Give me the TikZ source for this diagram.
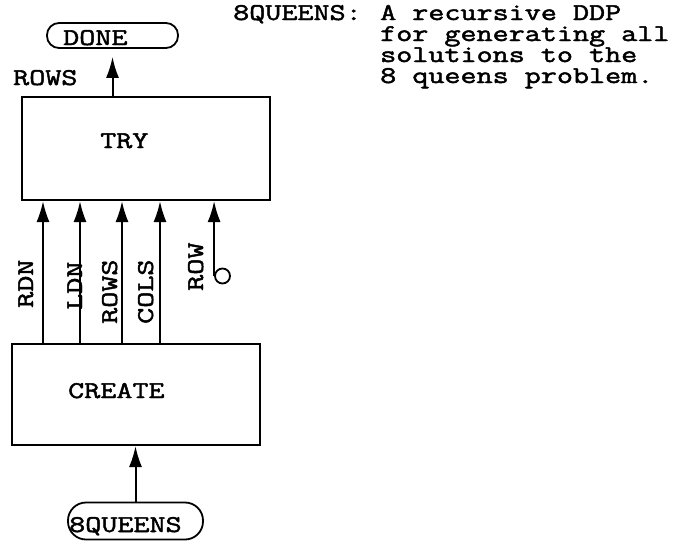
\documentclass[tikz,border=0pt]{standalone}
\usepackage{fontspec}
\newfontfamily\typewriter{Latin Modern Mono}[FakeStretch=1.3,FakeBold=2]
\usetikzlibrary{arrows.meta}

\tikzset{
  box/.style={draw, line width=2pt, minimum width=248pt, inner sep=0pt},
  term/.style={draw, line width=1.8pt, rounded corners=12pt, inner sep=0pt},
  lbl/.style={font=\typewriter\fontsize{24}{21.5}\selectfont, inner sep=0pt},
  arr/.style={line width=2pt, -{Latex[length=21pt,width=13pt]}}
}

\begin{document}
\begin{tikzpicture}[x=1pt,y=-1pt]
\useasboundingbox (0,0) rectangle (679,544);

% the two terminals and the two procedures
\node[term, minimum width=131pt, minimum height=25pt] (done) at (112.5,35.5) {};
\node[lbl, anchor=base west] (donetext) at (63,45) {DONE};
\node[box, minimum height=103pt] (try) at (146,148.5) {};
\node[lbl, anchor=base west] (trytext) at (100,148) {TRY};
\node[box, minimum height=101pt] (create) at (136,394.5) {};
\node[lbl, anchor=base west] (createtext) at (68,398) {CREATE};
\node[term, minimum width=135pt, minimum height=37pt, rounded corners=18pt] (queens) at (135.5,521) {};
\node[lbl, anchor=base west] (queenstext) at (69,532) {8QUEENS};

% output of TRY
\draw[arr, shorten >=8pt] (try.north -| done.south) -- (done.south);
\node[lbl, anchor=base west] (rowsout) at (13,85) {ROWS};

% data from CREATE to TRY
\foreach \x [count=\i] in {43,80,122,160} {
  \coordinate (in\i) at (\x,0);
  \draw[arr] (create.north -| in\i) -- (try.south -| in\i);
}
\foreach \t/\x/\y in {RDN/33/308, LDN/82/310, ROWS/117/324, COLS/153/324, ROW/203/291}
  \node[lbl, rotate=90, anchor=base west] (v\t) at (\x,\y) {\t};

% constant input
\node[draw, circle, line width=1.8pt, minimum size=15pt, inner sep=0pt] (rowtap) at (222.5,276) {};
\draw[arr] (rowtap.west) -- (try.south -| rowtap.west);

\draw[arr] (queens.north) -- (create.south -| queens.north);

% title
\node[lbl, anchor=base west] (title) at (233,20) {8QUEENS:};
\foreach \t [count=\i] in {A recursive DDP, for generating all, solutions to the, 8 queens problem.}
  \node[lbl, anchor=base west] (desc\i) at (380,{20+21*(\i-1)}) {\t};
\end{tikzpicture}
\end{document}
